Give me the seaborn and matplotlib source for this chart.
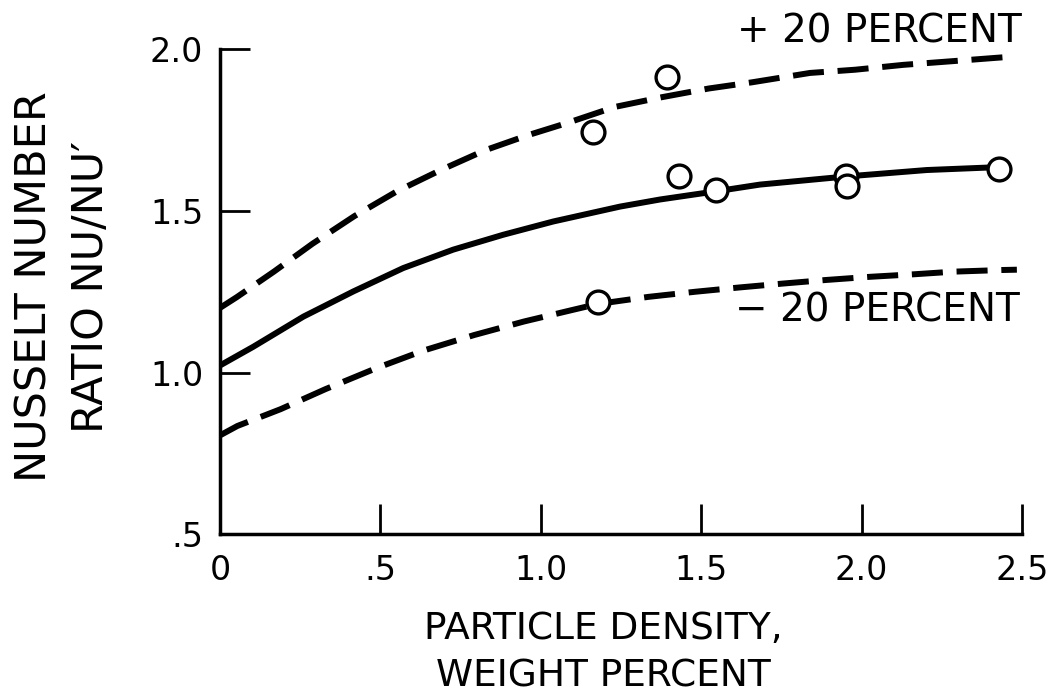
import matplotlib
matplotlib.use("Agg")
import matplotlib.pyplot as plt
import seaborn as sns

# ---- data ----
solid_x = [0.0, 0.104, 0.260, 0.416, 0.571, 0.727, 0.883, 1.039, 1.247, 1.372, 1.545, 1.683, 1.951, 2.203, 2.428]
solid_y = [1.022, 1.080, 1.173, 1.251, 1.323, 1.380, 1.426, 1.467, 1.513, 1.535, 1.560, 1.581, 1.606, 1.626, 1.635]

upper_x = [0.0, 0.052, 0.168, 0.288, 0.418, 0.551, 0.686, 0.826, 0.961, 1.081, 1.231, 1.377, 1.524, 1.658, 1.839, 1.980, 2.130, 2.278, 2.423, 2.478]
upper_y = [1.200, 1.233, 1.312, 1.398, 1.483, 1.560, 1.625, 1.687, 1.734, 1.771, 1.821, 1.851, 1.878, 1.897, 1.926, 1.936, 1.951, 1.962, 1.973, 1.977]

lower_x = [0.0, 0.054, 0.189, 0.329, 0.488, 0.634, 0.792, 0.948, 1.096, 1.177, 1.335, 1.483, 1.618, 1.753, 1.886, 2.026, 2.166, 2.288, 2.437, 2.484]
lower_y = [0.806, 0.835, 0.887, 0.949, 1.014, 1.068, 1.116, 1.158, 1.193, 1.212, 1.234, 1.250, 1.263, 1.275, 1.286, 1.296, 1.304, 1.312, 1.317, 1.318]

points_x = [1.162, 1.394, 1.432, 1.545, 1.951, 1.955, 2.428, 1.177]
points_y = [1.744, 1.912, 1.608, 1.565, 1.606, 1.577, 1.629, 1.218]

xticks = [0.0, 0.5, 1.0, 1.5, 2.0, 2.5]
xtick_labels = ["0", ".5", "1.0", "1.5", "2.0", "2.5"]
yticks = [0.5, 1.0, 1.5, 2.0]
ytick_labels = [".5", "1.0", "1.5", "2.0"]

xlabel = "PARTICLE DENSITY,\nWEIGHT PERCENT"
ylabel = "NUSSELT NUMBER\nRATIO NU/NU\u2032"
upper_label = "+ 20 PERCENT"
lower_label = "\u2212 20 PERCENT"

# ---- drawing ----
sns.set_theme(style="white")
plt.rcParams['font.family'] = ['DejaVu Sans']

fig = plt.figure(figsize=(10.53, 6.93), dpi=100)
ax = fig.add_axes([220 / 1053, 1 - 534.4 / 693, 802 / 1053, (534.4 - 49) / 693])

lw = 4.3
dash = (0, (5.2, 2.3))
sns.lineplot(x=solid_x, y=solid_y, ax=ax, color="black", linewidth=lw,
             estimator=None, sort=False, solid_capstyle="butt")
sns.lineplot(x=upper_x, y=upper_y, ax=ax, color="black", linewidth=lw,
             estimator=None, sort=False, linestyle=dash)
sns.lineplot(x=lower_x, y=lower_y, ax=ax, color="black", linewidth=lw,
             estimator=None, sort=False, linestyle=dash)
sns.scatterplot(x=points_x, y=points_y, ax=ax, marker="o", s=270,
                facecolor="white", edgecolor="black", linewidth=2.4, zorder=5)

ax.set_xlim(0, 2.5)
ax.set_ylim(0.5, 2.0)
ax.set_xticks(xticks, xtick_labels)
ax.set_yticks(yticks, ytick_labels)

for side in ["top", "right"]:
    ax.spines[side].set_visible(False)
for side in ["left", "bottom"]:
    ax.spines[side].set_linewidth(2.5)
    ax.spines[side].set_color("black")

ax.tick_params(axis="both", which="major", bottom=True, left=True,
               direction="in", length=21.5, width=2.0,
               color="black", labelcolor="black", labelsize=24)
ax.tick_params(axis="x", pad=14)
ax.tick_params(axis="y", pad=12)
ax.grid(False)

ax.set_xlabel(xlabel, fontsize=27, color="black", linespacing=1.4)
ax.xaxis.set_label_coords(0.478, -0.158)
ax.xaxis.label.set_va("top")

ax.set_ylabel(ylabel, fontsize=31, color="black", linespacing=1.42)
ax.yaxis.set_label_coords(-0.135, 0.51)

ax.text(2.5, 2.054, upper_label, fontsize=28, color="black",
        ha="right", va="center", clip_on=False)
ax.text(2.494, 1.191, lower_label, fontsize=28, color="black",
        ha="right", va="center", clip_on=False)

fig.savefig("out.png", dpi=100, facecolor="white")
